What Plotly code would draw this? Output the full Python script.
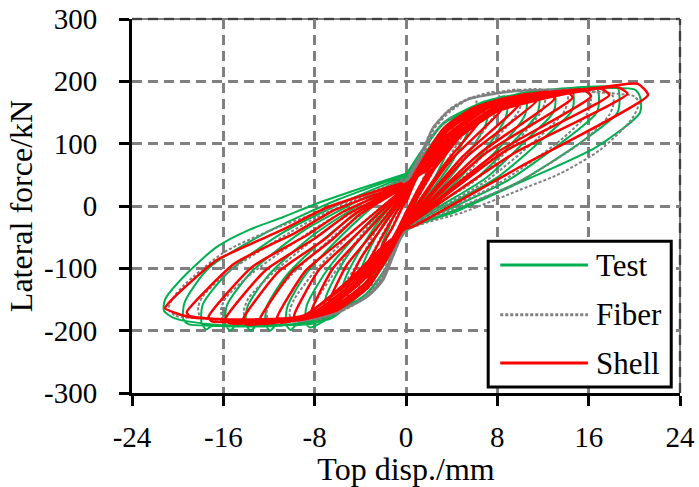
import plotly.graph_objects as go

# ---------------- data ----------------
X_TICKS = [-24, -16, -8, 0, 8, 16, 24]
Y_TICKS = [-300, -200, -100, 0, 100, 200, 300]
SERIES_NAMES = ["Test", "Fiber", "Shell"]

# Test (green): one list of (disp mm, force kN) vertices per cycle
TEST_LOOPS = [
    [(0, 5), (0.8, 40), (2, 75), (2.1, 62), (1.5, 35), (0.8, 5), (0, -12), (-0.8, -42), (-2, -75), (-2.1, -62), (-1.5, -35), (-0.8, -5), (0, 12)],
    [(0, 12), (1, 50), (2.3, 95), (4, 128), (4.15, 115), (3.8, 95), (2.5, 45), (1, 5), (0, -18), (-1, -55), (-2.3, -100), (-4, -130), (-4.15, -117), (-3.8, -95), (-2.5, -45), (-1, -2), (0, 18)],
    [(0, 18), (1.2, 60), (2.8, 110), (4.2, 140), (5.5, 152), (5.7, 140), (5.4, 118), (4, 70), (2, 20), (0, -22), (-1.2, -65), (-2.8, -115), (-4.2, -145), (-5.5, -160), (-5.7, -147), (-5.4, -120), (-4, -70), (-2, -15), (0, 24)],
    [(0, 24), (1.3, 66), (3, 115), (5, 148), (7, 168), (7.2, 155), (7, 132), (5.5, 85), (3, 28), (0, -26), (-1.3, -70), (-3, -120), (-5, -158), (-6.5, -180), (-7, -182), (-7.2, -168), (-7, -145), (-5.5, -90), (-3, -30), (0, 28)],
    [(0, 28), (1.5, 68), (3.4, 118), (5.7, 153), (8.7, 176), (8.9, 162), (8.7, 140), (7, 92), (4, 32), (0, -28), (-1.5, -74), (-3.5, -126), (-5.7, -166), (-7.5, -188), (-8.4, -195), (-8.8, -188), (-8.7, -160), (-7, -105), (-4, -40), (0, 32)],
    [(0, 32), (1.6, 70), (3.6, 120), (6.2, 158), (8.5, 172), (10.4, 181), (10.6, 167), (10.4, 145), (8.5, 100), (5, 38), (2, 0), (0, -30), (-1.6, -76), (-3.7, -128), (-6, -170), (-8, -188), (-9.7, -192), (-10.1, -199), (-10.5, -190), (-10.4, -162), (-8.8, -110), (-5.5, -45), (-2.5, 5), (0, 36)],
    [(0, 36), (1.7, 74), (3.7, 122), (6.7, 162), (9, 176), (11.5, 184), (11.7, 170), (11.5, 148), (9.5, 105), (6, 42), (2.5, 0), (0, -32), (-1.7, -80), (-3.8, -131), (-6.2, -173), (-8.5, -189), (-11.4, -192), (-11.9, -200), (-12.3, -190), (-12.2, -162), (-10.5, -112), (-7, -50), (-3, 5), (0, 40)],
    [(0, 40), (1.8, 78), (3.8, 124), (7, 164), (9.5, 178), (12.9, 186), (13.1, 172), (12.9, 150), (10.5, 105), (7, 45), (3, 0), (0, -34), (-1.8, -82), (-3.9, -132), (-6.7, -176), (-9.5, -190), (-13.1, -192), (-13.6, -200), (-14, -190), (-13.9, -162), (-12, -110), (-8, -45), (-3.5, 8), (0, 43)],
    [(0, 43), (1.8, 82), (3.8, 127), (7.2, 166), (11, 182), (14.5, 188), (14.7, 174), (14.5, 152), (12, 108), (8, 46), (3.5, 0), (0, -36), (-1.8, -86), (-3.9, -134), (-7.2, -178), (-11, -192), (-14.9, -192), (-15.4, -200), (-15.8, -190), (-15.7, -160), (-13.5, -105), (-9, -40), (-4, 10), (0, 46)],
    [(0, 46), (1.7, 86), (3.6, 130), (7, 167), (12, 184), (16.7, 190), (16.9, 176), (16.7, 150), (13.5, 100), (9, 42), (4, -3), (0, -38), (-1.7, -88), (-3.7, -137), (-7.5, -181), (-12, -193), (-17, -192), (-17.5, -198), (-17.9, -188), (-17.8, -158), (-15.5, -105), (-11, -45), (-5, 10), (0, 48)],
    [(0, 48), (1.5, 90), (3.3, 132), (7, 168), (12, 184), (18.5, 190), (18.7, 175), (18.5, 149), (15, 98), (10, 40), (4.5, -5), (0, -40), (-1.5, -92), (-3.5, -141), (-7.5, -182), (-12, -193), (-17, -192), (-19, -190), (-19.5, -182), (-19.4, -155), (-17.3, -100), (-12.5, -45), (-6, 10), (0, 50)],
    [(0, 50), (1.5, 92), (3.3, 134), (7, 168), (12, 184), (17, 189), (20.0, 187), (20.5, 175), (20.5, 150), (16.7, 95), (9.9, 37), (4.5, -8), (0, -40), (-1.5, -93), (-3.5, -142), (-7.5, -183), (-12, -192), (-17, -190), (-20.3, -180), (-21.2, -168), (-21.1, -150), (-19.5, -114), (-16.6, -66), (-13.7, -38), (-10.8, -18), (-7.8, 4), (-4, 28), (0, 52)],
]

# Fiber (grey dotted)
FIBER_LOOPS = [
    [(0, 5), (0.8, 45), (2, 85), (2.1, 72), (1, 25), (0, -10), (-0.8, -45), (-2, -85), (-2.1, -72), (-1, -25), (0, 10)],
    [(0, 10), (1, 58), (2.4, 115), (4, 142), (4.15, 128), (3.8, 110), (2.5, 60), (1, 12), (0, -15), (-1, -58), (-2.2, -112), (-4, -140), (-4.15, -128), (-3.8, -110), (-2.5, -60), (-1, -12), (0, 15)],
    [(0, 15), (1.2, 70), (2.4, 122), (3.9, 152), (6, 175), (6.2, 162), (5.8, 140), (4, 85), (2, 25), (0, -20), (-1.1, -70), (-2.1, -115), (-3.6, -145), (-6, -168), (-6.2, -156), (-5.8, -138), (-4, -85), (-2, -20), (0, 20)],
    [(0, 20), (1.4, 80), (2.4, 125), (3.9, 155), (5.5, 172), (8, 183), (8.2, 168), (7.8, 148), (6, 100), (3, 30), (0, -25), (-1.1, -72), (-2.1, -117), (-3.5, -146), (-6, -172), (-8, -182), (-8.2, -168), (-7.8, -150), (-6, -100), (-3, -25), (0, 25)],
    [(0, 25), (1.5, 88), (2.4, 126), (3.8, 155), (5.4, 172), (8.2, 183), (10, 186), (10.2, 172), (9.8, 150), (8, 110), (5, 45), (2, 0), (0, -28), (-1.1, -76), (-2.1, -118), (-3.5, -147), (-6.2, -173), (-8.5, -183), (-10, -185), (-10.2, -170), (-9.8, -150), (-8, -105), (-4, -30), (0, 30)],
    [(0, 30), (1.5, 92), (2.4, 127), (3.7, 153), (5.3, 170), (8.2, 182), (12, 186), (12.2, 170), (11.8, 150), (10, 110), (6, 40), (2.5, 0), (0, -32), (-1.1, -78), (-2.1, -119), (-3.4, -146), (-6.3, -172), (-9, -184), (-12, -185), (-12.2, -170), (-11.8, -150), (-10, -110), (-5, -28), (0, 35)],
    [(0, 35), (1.6, 95), (2.4, 127), (3.7, 152), (5.3, 170), (8.2, 181), (11.1, 186), (14, 184), (14.2, 170), (13.8, 150), (11.5, 108), (7, 40), (3, -3), (0, -35), (-1.1, -80), (-2, -119), (-3.4, -146), (-6.4, -172), (-10, -185), (-14, -183), (-14.2, -168), (-13.8, -148), (-11.5, -105), (-6, -25), (0, 38)],
    [(0, 38), (1.6, 95), (2.4, 127), (3.7, 152), (5.3, 170), (8.2, 181), (11.1, 186), (16, 183), (16.2, 168), (15.8, 146), (13.5, 105), (8, 35), (3.5, -5), (0, -37), (-1.1, -80), (-2, -119), (-3.4, -146), (-6.4, -172), (-11, -185), (-16, -181), (-16.2, -166), (-15.8, -148), (-13.5, -108), (-7, -25), (0, 40)],
    [(0, 40), (1.6, 95), (2.4, 127), (3.7, 152), (5.3, 170), (8.2, 181), (11.1, 186), (15, 184), (18, 180), (18.2, 166), (17.8, 146), (15.5, 104), (9.5, 35), (4, -6), (0, -38), (-1.1, -80), (-2, -119), (-3.4, -146), (-6.4, -172), (-12, -185), (-18, -178), (-18.2, -162), (-17.8, -145), (-15.5, -105), (-8, -20), (0, 42)],
    [(0, 42), (1.6, 95), (2.4, 127), (3.7, 152), (5.3, 170), (8.2, 181), (11.1, 186), (15, 184), (18.5, 180), (20, 176), (20.4, 165), (19.8, 140), (17, 90), (13.5, 52), (10, 26), (5, -10), (0, -40), (-1, -75), (-2, -119), (-3.4, -146), (-6.4, -172), (-9, -182), (-13, -185), (-17, -181), (-20.2, -176), (-20.8, -165), (-20.3, -145), (-19.5, -128), (-16, -75), (-12, -40), (-8, -12), (-4, 15), (0, 45)],
]

# Shell (red)
SHELL_LOOPS = [
    [(0, 5), (0.8, 40), (2, 75), (2.2, 66), (1, 25), (0, -10), (-0.8, -40), (-2, -75), (-2.2, -68), (-1.2, -35), (0, 10)],
    [(0, 10), (1, 50), (2.2, 88), (3.5, 112), (3.8, 104), (2, 50), (0, -15), (-1, -52), (-2.2, -92), (-3.5, -115), (-3.8, -107), (-2.7, -70), (-1.5, -30), (0, 15)],
    [(0, 15), (1, 55), (2.5, 102), (5, 140), (5.4, 130), (2.5, 60), (0, -20), (-1, -57), (-2.5, -108), (-5, -145), (-5.3, -138), (-4, -85), (-2.4, -42), (0, 20)],
    [(0, 20), (1.2, 62), (3, 115), (6.5, 158), (6.9, 148), (3.5, 70), (0, -24), (-1.2, -65), (-3, -120), (-6.5, -165), (-6.8, -158), (-5.2, -95), (-3.2, -50), (0, 24)],
    [(0, 24), (1.3, 68), (3.2, 122), (5.5, 152), (8, 168), (8.5, 158), (4, 75), (0, -27), (-1.3, -72), (-3.2, -127), (-5.5, -160), (-8, -177), (-8.3, -170), (-6.4, -100), (-4, -52), (0, 27)],
    [(0, 27), (1.4, 72), (3.3, 125), (6, 158), (9.5, 175), (10, 165), (5, 80), (0, -29), (-1.4, -76), (-3.3, -130), (-6, -167), (-9.5, -183), (-9.8, -176), (-7.6, -102), (-4.7, -52), (0, 29)],
    [(0, 29), (1.5, 72), (3.4, 122), (6.5, 160), (11, 180), (11.5, 170), (5.5, 82), (0, -30), (-1.5, -78), (-3.4, -128), (-6.5, -168), (-11, -187), (-11.3, -180), (-8.8, -104), (-5.4, -52), (0, 31)],
    [(0, 31), (1.5, 70), (3.5, 118), (7, 162), (12.5, 183), (13, 172), (6.5, 85), (0, -31), (-1.6, -76), (-3.6, -124), (-7, -170), (-12.5, -189), (-12.8, -182), (-10, -106), (-6.4, -53), (-4.1, -14), (0, 32)],
    [(0, 32), (1.6, 68), (3.6, 114), (7, 158), (14, 185), (14.6, 174), (7, 85), (0, -32), (-1.7, -74), (-3.8, -120), (-7.5, -172), (-14, -190), (-14.3, -183), (-11.2, -106), (-7.1, -53), (-4.6, -14), (0, 33)],
    [(0, 33), (1.7, 66), (3.8, 112), (7.5, 160), (15.5, 187), (16.2, 176), (8, 86), (0, -33), (-1.8, -72), (-4, -118), (-8, -174), (-15.5, -188), (-15.8, -181), (-12.3, -103), (-7.9, -51), (-5, -12), (0, 34)],
    [(0, 34), (1.8, 64), (4, 110), (8, 160), (17, 189), (17.8, 178), (8.5, 86), (0, -34), (-1.9, -70), (-4.2, -116), (-8.5, -175), (-17, -185), (-17.3, -178), (-13.5, -98), (-8.7, -47), (-5.6, -10), (0, 35)],
    [(0, 35), (1.9, 62), (4.2, 108), (8, 156), (14, 180), (18.5, 191), (19.4, 180), (9.5, 85), (0, -34), (-2, -68), (-4.4, -114), (-9, -176), (-15, -183), (-19, -176), (-19.2, -170), (-15, -92), (-9.7, -43), (-6.2, -6), (0, 36)],
    [(0, 36), (2, 60), (4.4, 106), (8, 152), (14, 180), (20.3, 196), (21.2, 178), (10, 63), (0.6, -33), (0, -36), (-2.1, -66), (-4.6, -112), (-9, -176), (-15, -182), (-19, -178), (-21.1, -164), (-20.5, -150), (-16.6, -87), (-10.8, -38), (-6.9, -2), (-0.3, 37)],
]

COLORS = {"Test": "#00B050", "Fiber": "#808080", "Shell": "#FF0000"}
FONT = "Liberation Serif"


def path(loops):
    xs = [p[0] for loop in loops for p in loop]
    ys = [p[1] for loop in loops for p in loop]
    return xs, ys


fig = go.Figure()

tx, ty = path(TEST_LOOPS)
fig.add_trace(go.Scatter(x=tx, y=ty, mode="lines", name="Test", showlegend=False,
                         line=dict(color=COLORS["Test"], width=2, shape="spline", smoothing=0.7)))
fx, fy = path(FIBER_LOOPS)
fig.add_trace(go.Scatter(x=fx, y=fy, mode="lines", name="Fiber", showlegend=False,
                         line=dict(color=COLORS["Fiber"], width=2, dash="3px,2px", shape="spline", smoothing=0.7)))
sx, sy = path(SHELL_LOOPS)
fig.add_trace(go.Scatter(x=sx, y=sy, mode="lines", name="Shell", showlegend=False,
                         line=dict(color=COLORS["Shell"], width=2.5, shape="spline", smoothing=0.5)))

axis_common = dict(
    showgrid=True, gridcolor="#808080", gridwidth=2.5, griddash="10px,6px",
    zeroline=False, showline=True, linecolor="black", linewidth=3,
    ticks="outside", ticklen=10, tickwidth=3, tickcolor="black",
    tickfont=dict(family=FONT, size=29, color="black"),
    automargin=False,
)

fig.update_xaxes(range=[-24, 24], tickvals=X_TICKS, ticktext=[str(v) for v in X_TICKS],
                 title=dict(text="Top disp./mm", font=dict(family=FONT, size=32, color="black"), standoff=0),
                 ticklabelstandoff=6, **axis_common)
fig.update_yaxes(range=[-300, 300], tickvals=Y_TICKS, ticktext=[str(v) for v in Y_TICKS],
                 title=dict(text="Lateral force/kN", font=dict(family=FONT, size=32, color="black"), standoff=2),
                 ticklabelstandoff=16, **axis_common)

# frame edges: dashed grid at the top/right limits plus a thin black border
for x0, x1, y0, y1 in [(0, 1, 1, 1), (1, 1, 0, 1)]:
    fig.add_shape(type="line", xref="paper", yref="paper", x0=x0, x1=x1, y0=y0, y1=y1,
                  line=dict(color="#808080", width=2.5, dash="10px,6px"), layer="below")
    fig.add_shape(type="line", xref="paper", yref="paper", x0=x0, x1=x1, y0=y0, y1=y1,
                  line=dict(color="black", width=1), layer="below")

# legend box drawn by hand (long line samples as in the original)
LEG_X0, LEG_X1, LEG_Y0, LEG_Y1 = 0.65, 0.984, 0.016, 0.406
fig.add_shape(type="rect", xref="paper", yref="paper", x0=LEG_X0, x1=LEG_X1, y0=LEG_Y0, y1=LEG_Y1,
              line=dict(color="black", width=3), fillcolor="white", layer="above")
leg_rows = [0.342, 0.209, 0.080]
for name, yy in zip(SERIES_NAMES, leg_rows):
    dash = "3px,2px" if name == "Fiber" else "solid"
    fig.add_shape(type="line", xref="paper", yref="paper", x0=0.672, x1=0.832, y0=yy, y1=yy,
                  line=dict(color=COLORS[name], width=3, dash=dash), layer="above")
    fig.add_annotation(xref="paper", yref="paper", x=0.843, y=yy, text=name, showarrow=False,
                       xanchor="left", yanchor="middle",
                       font=dict(family=FONT, size=31, color="black"))

fig.update_layout(
    width=699, height=487,
    margin=dict(l=132, r=19, t=19, b=94),
    plot_bgcolor="white", paper_bgcolor="white",
    showlegend=False,
)

fig.write_html("out.html")
